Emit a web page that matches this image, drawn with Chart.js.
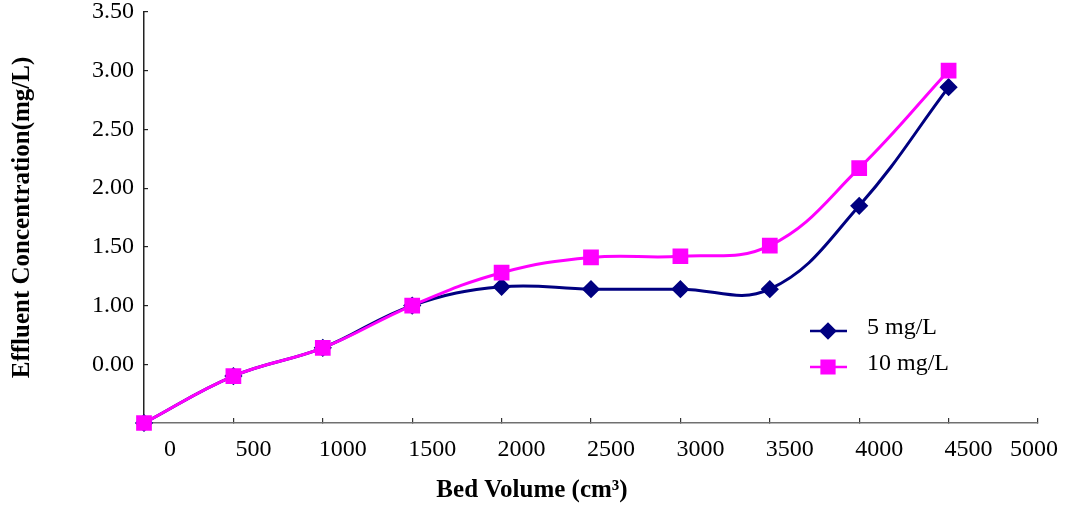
<!DOCTYPE html>
<html>
<head>
<meta charset="utf-8">
<script src="https://cdn.jsdelivr.net/npm/chart.js@4/dist/chart.umd.min.js"></script>
<style>
  html, body { margin: 0; padding: 0; background: #fff; }
  #wrap { width: 1071px; height: 511px; }
</style>
</head>
<body>
<div id="wrap"><canvas id="chart"></canvas></div>
<script>
// bed volume (cm3)
const bedVolume = [0, 500, 1000, 1500, 2000, 2500, 3000, 3500, 4000, 4500];
// effluent concentration (mg/L)
const conc5 = [0, 0.40, 0.64, 1.00, 1.16, 1.14, 1.14, 1.14, 1.85, 2.86];
const conc10 = [0, 0.40, 0.64, 1.00, 1.28, 1.41, 1.42, 1.51, 2.17, 3.00];

const seriesNames = ["5 mg/L", "10 mg/L"];
const xTickValues = [0, 500, 1000, 1500, 2000, 2500, 3000, 3500, 4000, 4500, 5000];
const xTickLabels = ["0", "500", "1000", "1500", "2000", "2500", "3000", "3500", "4000", "4500", "5000"];
const yTickValues = [0, 0.5, 1, 1.5, 2, 2.5, 3, 3.5];
const yTickLabels = ["", "0.00", "1.00", "1.50", "2.00", "2.50", "3.00", "3.50"];

const serif = "'Liberation Serif', 'Times New Roman', serif";

const toPoints = (ys) => bedVolume.map((x, i) => ({ x: x, y: ys[i] }));

// legend drawn inside the plot area, like the original
const insideLegend = {
  id: "insideLegend",
  afterDraw(chart) {
    const ctx = chart.ctx;
    const spots = [{ x: 810, y: 331 }, { x: 810, y: 367 }];
    chart.data.datasets.forEach((ds, i) => {
      const p = spots[i];
      ctx.save();
      ctx.strokeStyle = ds.borderColor;
      ctx.lineWidth = 2.5;
      ctx.beginPath();
      ctx.moveTo(p.x, p.y);
      ctx.lineTo(p.x + 37, p.y);
      ctx.stroke();
      ctx.fillStyle = ds.pointBackgroundColor;
      ctx.strokeStyle = ds.pointBorderColor;
      Chart.helpers.drawPoint(ctx, {
        pointStyle: ds.pointStyle,
        radius: ds.pointRadius,
        rotation: 0,
        borderWidth: 1
      }, p.x + 18, p.y);
      ctx.fillStyle = "#000";
      ctx.font = "24px " + serif;
      ctx.textBaseline = "middle";
      ctx.fillText(ds.label, p.x + 57, p.y - 3);
      ctx.restore();
    });
  }
};

new Chart(document.getElementById("chart"), {
  type: "line",
  data: {
    datasets: [
      {
        label: seriesNames[0],
        data: toPoints(conc5),
        borderColor: "#000080",
        backgroundColor: "#000080",
        pointBackgroundColor: "#000080",
        pointBorderColor: "#000080",
        pointStyle: "rectRot",
        pointRadius: 7,
        borderWidth: 3,
        tension: 0.4,
        fill: false,
        order: 1
      },
      {
        label: seriesNames[1],
        data: toPoints(conc10),
        borderColor: "#ff00ff",
        backgroundColor: "#ff00ff",
        pointBackgroundColor: "#ff00ff",
        pointBorderColor: "#ff00ff",
        pointStyle: "rect",
        pointRadius: 9,
        borderWidth: 3,
        tension: 0.4,
        fill: false,
        order: 0
      }
    ]
  },
  options: {
    responsive: true,
    maintainAspectRatio: false,
    animation: false,
    clip: false,
    layout: { padding: { left: 0, right: 7, top: 9, bottom: 0 } },
    plugins: {
      legend: { display: false },
      tooltip: { enabled: false },
      title: {
        display: true,
        position: "bottom",
        text: "Bed Volume (cm\u00b3)",
        color: "#000",
        font: { family: serif, size: 25, weight: "bold" },
        padding: { top: 0, bottom: 5 }
      }
    },
    scales: {
      x: {
        type: "linear",
        min: 0,
        max: 5000,
        afterBuildTicks: (s) => { s.ticks = xTickValues.map((v) => ({ value: v })); },
        afterFit: (s) => { s.height = 53; s.paddingLeft = 0; s.paddingRight = 33; },
        border: { display: true, color: "#707070", width: 1.5 },
        grid: { drawOnChartArea: false, drawTicks: true, tickLength: -5, tickColor: "#333", lineWidth: 1.2 },
        ticks: {
          autoSkip: false,
          maxRotation: 0,
          align: "inner",
          labelOffset: 20,
          padding: 17,
          color: "#000",
          font: { family: serif, size: 24 },
          callback: (v, i) => xTickLabels[i]
        }
      },
      y: {
        type: "linear",
        min: 0,
        max: 3.5,
        afterBuildTicks: (s) => { s.ticks = yTickValues.map((v) => ({ value: v })); },
        afterFit: (s) => { s.width = 144; s.paddingTop = 0; s.paddingBottom = 0; },
        border: { display: true, color: "#222", width: 1.5 },
        grid: { drawOnChartArea: false, drawTicks: true, tickLength: -4, tickColor: "#222", lineWidth: 1.2 },
        title: {
          display: true,
          text: "Effluent Concentration(mg/L)",
          color: "#000",
          font: { family: serif, size: 25, weight: "bold" },
          padding: { top: 8, bottom: 0 }
        },
        ticks: {
          autoSkip: false,
          padding: 14,
          color: "#000",
          font: { family: serif, size: 24 },
          callback: (v, i) => yTickLabels[i]
        }
      }
    }
  },
  plugins: [insideLegend]
});
</script>
</body>
</html>
